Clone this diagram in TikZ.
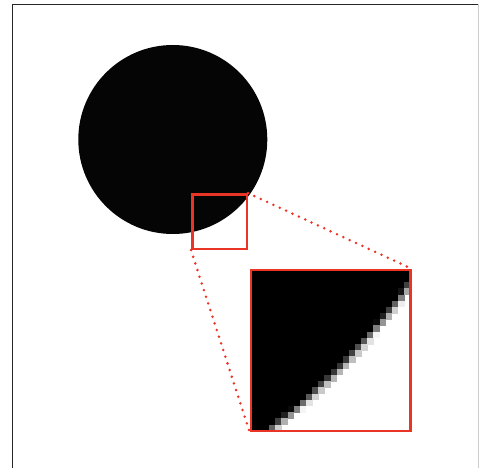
\documentclass[tikz,border=0pt]{standalone}
\usepackage{xcolor}
\usepackage{tikz}
\usetikzlibrary{positioning,calc}

\definecolor{zoomred}{RGB}{234,52,38}

\tikzset{
  lens/.style={draw=zoomred,line width=2.5pt,rectangle,inner sep=0pt},
  dotline/.style={zoomred,line width=2.8pt,line cap=round,dash pattern=on 0pt off 7pt},
}

\begin{document}
\begin{tikzpicture}[x=1pt,y=-1pt]
  \useasboundingbox (0,0) rectangle (479,468);
  % frame
  \draw[black!85,line width=1.4pt] (12.5,468) -- (12.5,4.5) -- (478.5,4.5);
  \draw[black!20,line width=1pt] (478.5,4.5) -- (478.5,468);

  \node[circle,fill=black!98,inner sep=0pt,minimum size=189pt] (disc) at (172.8,139.5) {};

  % magnified pixels of the edge
  \begin{scope}[shift={(251,270)},x=6.135pt,y=-6.19pt]
    \foreach \i in {0,...,25}{
      \foreach \j in {0,...,25}{
        \pgfmathsetmacro\cov{min(1,max(0,0.5-(veclen((\i+0.5+61.8)/10,(\j+0.5+59.8)/10)*10-107.6)/1.4))}
        \pgfmathtruncatemacro\pct{100*\cov}
        \ifnum\pct>2
          \fill[black!\pct] (\i-0.04,\j-0.04) rectangle (\i+1.04,\j+1.04);
        \fi
      }
    }
  \end{scope}

  \node[lens,minimum width=54.5pt,minimum height=54.5pt] (spot) at (219.5,221.6) {};
  \node[lens,minimum width=159.5pt,minimum height=161pt] (inset) at (330.7,350.5) {};

  \draw[dotline] (spot.north east) -- (inset.north east);
  \draw[dotline] (spot.south west) -- (inset.south west);
\end{tikzpicture}
\end{document}
